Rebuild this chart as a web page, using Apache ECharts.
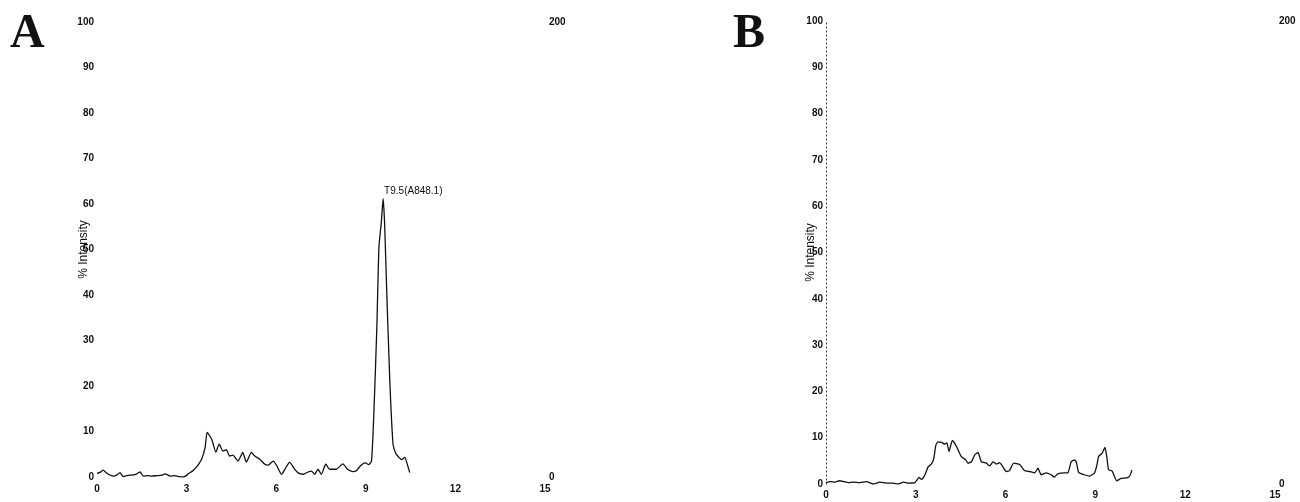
<!DOCTYPE html>
<html>
<head>
<meta charset="utf-8">
<style>
  html, body { margin: 0; padding: 0; background: #fff; }
  #chart { width: 1300px; height: 502px; }
</style>
<script src="https://cdn.jsdelivr.net/npm/echarts@6/dist/echarts.min.js"></script>
</head>
<body>
<div id="chart"></div>
<script>
// Axis ticks
const timeTicks = [0, 3, 6, 9, 12, 15];
const intensityTicks = [0, 10, 20, 30, 40, 50, 60, 70, 80, 90, 100];
const rightTicks = [0, 200];

// Panel A: elution time (min) and % intensity
const timeA = [0.0, 0.1, 0.21, 0.3, 0.38, 0.55, 0.66, 0.77, 0.88, 1.0, 1.1, 1.27, 1.44, 1.55, 1.7, 1.83,
  2.0, 2.17, 2.28, 2.45, 2.6, 2.73, 2.9, 3.06, 3.23, 3.4, 3.51, 3.62, 3.69, 3.84, 3.98, 4.09, 4.22,
  4.33, 4.44, 4.55, 4.72, 4.88, 5.0, 5.17, 5.28, 5.45, 5.62, 5.73, 5.9, 6.01, 6.18, 6.29, 6.45, 6.62,
  6.73, 6.9, 7.07, 7.18, 7.29, 7.4, 7.51, 7.66, 7.79, 8.01, 8.23, 8.39, 8.56, 8.67, 8.84, 9.0, 9.09,
  9.19, 9.27, 9.37, 9.44, 9.52, 9.58, 9.63, 9.69, 9.8, 9.91, 10.0, 10.1, 10.2, 10.3, 10.38, 10.47];
const intensityA = [0.8, 1.0, 1.5, 1.0, 0.6, 0.2, 0.4, 0.95, 0.1, 0.3, 0.4, 0.5, 1.1, 0.2, 0.3, 0.2,
  0.3, 0.4, 0.7, 0.2, 0.3, 0.1, 0.0, 0.7, 1.5, 2.8, 4.0, 6.5, 9.8, 8.3, 5.5, 7.2, 5.7,
  6.0, 4.6, 4.8, 3.5, 5.4, 3.3, 5.4, 4.6, 3.9, 2.8, 2.6, 3.5, 2.6, 0.6, 1.7, 3.2, 1.7,
  0.9, 0.6, 1.1, 1.3, 0.6, 1.7, 0.6, 2.8, 1.7, 1.7, 2.9, 1.7, 1.2, 1.3, 2.6, 3.1, 2.7,
  3.5, 14, 33, 50.5, 56, 61.2, 55.7, 43, 21.8, 7.3, 5.2, 4.4, 3.8, 4.3, 3.0, 1.0];
const peakLabelA = 'T9.5(A848.1)';

// Panel B: elution time (min) and % intensity
const timeB = [0.0, 0.15, 0.3, 0.45, 0.6, 0.75, 0.9, 1.13, 1.36, 1.58, 1.8, 2.02, 2.24, 2.41, 2.58, 2.74,
  2.97, 3.11, 3.19, 3.3, 3.41, 3.52, 3.6, 3.67, 3.74, 3.86, 3.97, 4.04, 4.11, 4.22, 4.36, 4.52, 4.67,
  4.74, 4.86, 4.97, 5.08, 5.19, 5.36, 5.47, 5.58, 5.69, 5.8, 5.91, 6.02, 6.13, 6.27, 6.47, 6.63, 6.8,
  6.97, 7.08, 7.19, 7.36, 7.52, 7.63, 7.74, 7.97, 8.08, 8.19, 8.3, 8.36, 8.44, 8.63, 8.8, 8.97, 9.04,
  9.11, 9.22, 9.32, 9.38, 9.44, 9.56, 9.71, 9.86, 10.08, 10.16, 10.22];
const intensityB = [0.3, 0.5, 0.4, 0.7, 0.5, 0.3, 0.4, 0.3, 0.5, 0.0, 0.4, 0.2, 0.2, 0.0, 0.4, 0.2,
  0.3, 1.4, 1.0, 1.9, 3.7, 4.3, 5.5, 8.4, 9.1, 9.0, 8.6, 8.9, 7.0, 9.4, 8.1, 5.9, 5.2,
  4.5, 4.8, 6.3, 6.8, 4.8, 4.5, 3.9, 4.8, 4.3, 4.6, 3.7, 2.7, 2.9, 4.5, 4.2, 2.9, 2.7,
  2.4, 3.4, 2.0, 2.4, 2.0, 1.5, 2.2, 2.4, 2.4, 4.8, 5.2, 4.8, 2.5, 2.0, 1.7, 2.4, 3.8,
  6.0, 6.6, 7.9, 5.9, 3.1, 2.8, 0.7, 1.2, 1.4, 1.9, 3.0];

const sansFamily = '"Liberation Sans", Arial, sans-serif';
const tickFont = { fontFamily: sansFamily, fontWeight: 'bold', fontSize: 10, color: '#111' };

function pairs(xs, ys) {
  return xs.map((x, i) => [x, ys[i]]);
}

// Peak of panel A carries its annotation
const dataA = pairs(timeA, intensityA);
const peakIdx = intensityA.indexOf(Math.max.apply(null, intensityA));
dataA[peakIdx] = {
  value: dataA[peakIdx],
  label: {
    show: true,
    formatter: peakLabelA,
    position: [1, -7],
    align: 'left',
    verticalAlign: 'middle',
    fontFamily: sansFamily,
    fontSize: 10,
    color: '#111'
  }
};

function xAxisFor(gridIndex, margin) {
  return {
    type: 'value', gridIndex: gridIndex,
    min: timeTicks[0], max: timeTicks[timeTicks.length - 1],
    interval: timeTicks[1] - timeTicks[0],
    axisLine: { show: false }, axisTick: { show: false }, splitLine: { show: false },
    axisLabel: Object.assign({ margin: margin }, tickFont)
  };
}

function leftAxisFor(gridIndex, dotted, gap) {
  return {
    type: 'value', gridIndex: gridIndex, position: 'left',
    min: intensityTicks[0], max: intensityTicks[intensityTicks.length - 1],
    interval: intensityTicks[1] - intensityTicks[0],
    name: '% Intensity', nameLocation: 'middle', nameGap: gap, nameMoveOverlap: false,
    nameTextStyle: { fontFamily: sansFamily, fontSize: 12, color: '#111' },
    axisLine: dotted
      ? { show: true, lineStyle: { color: '#333', width: 1, type: [1, 3] } }
      : { show: false },
    axisTick: { show: false }, splitLine: { show: false },
    axisLabel: Object.assign({ margin: 3 }, tickFont)
  };
}

function rightAxisFor(gridIndex) {
  return {
    type: 'value', gridIndex: gridIndex, position: 'right',
    min: rightTicks[0], max: rightTicks[1], interval: rightTicks[1] - rightTicks[0],
    axisLine: { show: false }, axisTick: { show: false }, splitLine: { show: false },
    axisLabel: Object.assign({ margin: 4 }, tickFont)
  };
}

const lineStyle = { color: '#111', width: 1.3 };

const option = {
  backgroundColor: '#fff',
  animation: false,
  grid: [
    { left: 97, top: 22, width: 448, height: 455 },
    { left: 826, top: 21, width: 449, height: 463 }
  ],
  xAxis: [xAxisFor(0, 7), xAxisFor(1, 6)],
  yAxis: [leftAxisFor(0, false, 7), rightAxisFor(0), leftAxisFor(1, true, 9), rightAxisFor(1)],
  graphic: [
    { type: 'text', left: 10, top: 11, style: { text: 'A', font: 'bold 48px "Liberation Serif", "Times New Roman", serif', fill: '#111' } },
    { type: 'text', left: 733, top: 11, style: { text: 'B', font: 'bold 48px "Liberation Serif", "Times New Roman", serif', fill: '#111' } }
  ],
  series: [
    {
      type: 'line', xAxisIndex: 0, yAxisIndex: 0,
      data: dataA, showSymbol: true, symbol: 'circle', symbolSize: 0,
      smooth: 0.2, lineStyle: lineStyle, label: { show: false }
    },
    {
      type: 'line', xAxisIndex: 1, yAxisIndex: 2,
      data: pairs(timeB, intensityB), showSymbol: false, smooth: 0.15,
      lineStyle: lineStyle
    }
  ]
};

const chart = echarts.init(document.getElementById('chart'), null, { renderer: 'canvas' });
chart.setOption(option);
</script>
</body>
</html>
